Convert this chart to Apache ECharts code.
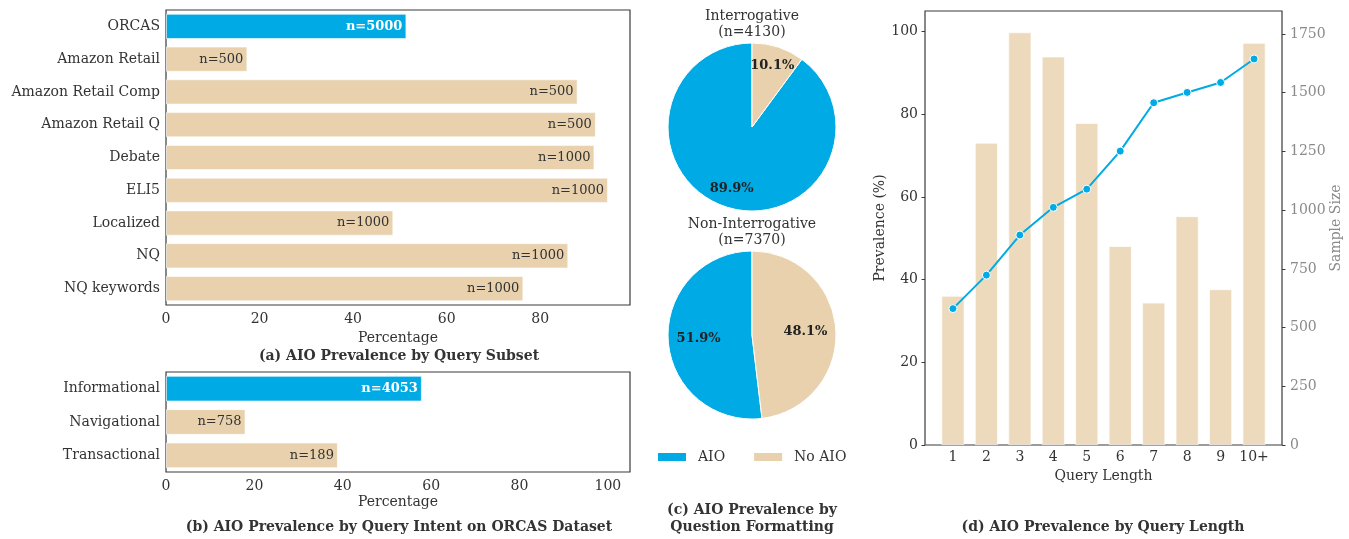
<!DOCTYPE html>
<html>
<head>
<meta charset="utf-8">
<script src="https://cdn.jsdelivr.net/npm/echarts@6/dist/echarts.min.js"></script>
<style>
  html, body { margin: 0; padding: 0; background: #fff; }
  #chart { width: 1349px; height: 539px; }
</style>
</head>
<body>
<div id="chart"></div>
<script>
// (a) prevalence by query subset
const subsetNames = ['ORCAS', 'Amazon Retail', 'Amazon Retail Comp', 'Amazon Retail Q', 'Debate', 'ELI5', 'Localized', 'NQ', 'NQ keywords'];
const subsetPct = [51.4, 17.4, 88.0, 91.9, 91.6, 94.5, 48.6, 86.0, 76.4];
const subsetN = [5000, 500, 500, 500, 1000, 1000, 1000, 1000, 1000];

// (b) prevalence by query intent (ORCAS)
const intentNames = ['Informational', 'Navigational', 'Transactional'];
const intentPct = [57.9, 18.0, 38.9];
const intentN = [4053, 758, 189];

// (c) question formatting
const sliceNames = ['AIO', 'No AIO'];
const formatGroups = ['Interrogative', 'Non-Interrogative'];
const formatN = [4130, 7370];
const interrogativeShare = [89.9, 10.1];
const nonInterrogativeShare = [51.9, 48.1];

// (d) prevalence by query length
const lengthLabels = ['1', '2', '3', '4', '5', '6', '7', '8', '9', '10+'];
const lengthPrevalence = [33.0, 41.1, 50.8, 57.5, 61.9, 71.1, 82.8, 85.3, 87.7, 93.4];
const lengthSamples = [635, 1287, 1757, 1654, 1371, 847, 606, 974, 663, 1712];

const BLUE = '#00AAE4';
const TAN = '#E8D1AC';
const INK = '#333333';
const GREY = '#8a8a8a';
const FONT = 'DejaVu Serif';

const chart = echarts.init(document.getElementById('chart'), null, { renderer: 'canvas' });

function hbarData(values, highlightIndex) {
  return values.map((v, i) => ({
    value: v,
    itemStyle: { color: i === highlightIndex ? BLUE : TAN },
    label: i === highlightIndex ? { color: '#fff', fontWeight: 'bold' } : {}
  }));
}

const frame = { show: true, borderColor: '#3a3a3a', borderWidth: 1.2, backgroundColor: 'transparent' };
const plain = (v) => String(v);

function pieSeries(share, center, radius) {
  return {
    type: 'pie',
    center: center,
    radius: radius,
    startAngle: 90,
    clockwise: false,
    silent: true,
    label: { show: false },
    labelLine: { show: false },
    itemStyle: { borderColor: '#fff', borderWidth: 1 },
    data: sliceNames.map((n, i) => ({ name: n, value: share[i], itemStyle: { color: i === 0 ? BLUE : TAN } }))
  };
}

// transparent ring whose mid-radius sets where the percentage labels sit
function pieLabelRing(share, center, radius) {
  return {
    type: 'pie',
    center: center,
    radius: radius,
    startAngle: 90,
    clockwise: false,
    silent: true,
    label: {
      show: true,
      position: 'inside',
      formatter: (p) => p.value.toFixed(1) + '%',
      color: '#222',
      fontWeight: 'bold',
      fontSize: 13,
      fontFamily: FONT
    },
    labelLine: { show: false },
    itemStyle: { color: 'rgba(0,0,0,0)' },
    data: sliceNames.map((n, i) => ({ name: n, value: share[i] }))
  };
}

const caption = { fontFamily: FONT, fontWeight: 'bold', fontSize: 14, color: INK };
const heading = { fontFamily: FONT, fontWeight: 'normal', fontSize: 14, color: INK, lineHeight: 16 };

const option = {
  animation: false,
  textStyle: { fontFamily: FONT, color: INK },
  title: [
    { text: '(a) AIO Prevalence by Query Subset', left: 399, top: 349, textAlign: 'center', padding: 0, textStyle: caption },
    { text: '(b) AIO Prevalence by Query Intent on ORCAS Dataset', left: 399, top: 520, textAlign: 'center', padding: 0, textStyle: caption },
    { text: '(c) AIO Prevalence by\nQuestion Formatting', left: 752, top: 502, textAlign: 'center', padding: 0,
      textStyle: Object.assign({}, caption, { lineHeight: 17 }) },
    { text: '(d) AIO Prevalence by Query Length', left: 1103, top: 520, textAlign: 'center', padding: 0, textStyle: caption },
    { text: formatGroups[0] + '\n(n=' + formatN[0] + ')', left: 752, top: 8, textAlign: 'center', padding: 0, textStyle: heading },
    { text: formatGroups[1] + '\n(n=' + formatN[1] + ')', left: 752, top: 216, textAlign: 'center', padding: 0, textStyle: heading }
  ],
  legend: {
    data: sliceNames,
    left: 656,
    top: 450,
    padding: 0,
    icon: 'rect',
    itemWidth: 30,
    itemHeight: 10,
    itemGap: 27,
    textStyle: { fontFamily: FONT, fontSize: 14, color: INK, padding: [0, 0, 0, 6] },
    selectedMode: false
  },
  grid: [
    Object.assign({ left: 166, top: 10, width: 464, height: 295 }, frame),
    Object.assign({ left: 166, top: 372, width: 464, height: 100 }, frame),
    Object.assign({ left: 925, top: 11, width: 357, height: 434 }, frame)
  ],
  xAxis: [
    { gridIndex: 0, type: 'value', min: 0, max: 99.2, interval: 20,
      name: 'Percentage', nameLocation: 'middle', nameGap: 23,
      nameTextStyle: { fontFamily: FONT, fontSize: 14, color: INK },
      axisLine: { show: false, onZero: false }, axisTick: { show: false }, splitLine: { show: false },
      axisLabel: { fontFamily: FONT, fontSize: 14, color: INK, margin: 7, showMaxLabel: false } },
    { gridIndex: 1, type: 'value', min: 0, max: 105, interval: 20,
      name: 'Percentage', nameLocation: 'middle', nameGap: 23,
      nameTextStyle: { fontFamily: FONT, fontSize: 14, color: INK },
      axisLine: { show: false, onZero: false }, axisTick: { show: false }, splitLine: { show: false },
      axisLabel: { fontFamily: FONT, fontSize: 14, color: INK, margin: 7, showMaxLabel: false } },
    { gridIndex: 2, type: 'value', min: -0.835, max: 9.835,
      name: 'Query Length', nameLocation: 'middle', nameGap: 22,
      nameTextStyle: { fontFamily: FONT, fontSize: 14, color: INK },
      axisLine: { show: false, onZero: false }, splitLine: { show: false },
      axisTick: { show: false },
      axisLabel: { fontFamily: FONT, fontSize: 14, color: INK, margin: 5,
        customValues: lengthLabels.map((_, i) => i),
        formatter: (v) => lengthLabels[Math.round(v)] } }
  ],
  yAxis: [
    { gridIndex: 0, type: 'category', data: subsetNames, inverse: true,
      axisLine: { show: false, onZero: false }, axisTick: { show: false },
      axisLabel: { fontFamily: FONT, fontSize: 14, color: INK, margin: 6 } },
    { gridIndex: 1, type: 'category', data: intentNames, inverse: true,
      axisLine: { show: false, onZero: false }, axisTick: { show: false },
      axisLabel: { fontFamily: FONT, fontSize: 14, color: INK, margin: 6 } },
    { gridIndex: 2, type: 'value', position: 'left', min: 0, max: 105, interval: 20,
      name: 'Prevalence (%)', nameLocation: 'middle', nameGap: 38, nameRotate: 90,
      nameTextStyle: { fontFamily: FONT, fontSize: 14, color: INK },
      axisLine: { show: false, onZero: false }, splitLine: { show: false },
      axisTick: { show: true, length: 3.5, lineStyle: { color: '#3a3a3a' } },
      axisLabel: { fontFamily: FONT, fontSize: 14, color: INK, margin: 7, showMaxLabel: false, formatter: plain } },
    { gridIndex: 2, type: 'value', position: 'right', min: 0, max: 1848, interval: 250,
      name: 'Sample Size', nameLocation: 'middle', nameGap: 45, nameRotate: 90,
      nameTextStyle: { fontFamily: FONT, fontSize: 14, color: GREY },
      axisLine: { show: false, onZero: false }, splitLine: { show: false },
      axisTick: { show: true, length: 3.5, lineStyle: { color: '#3a3a3a' } },
      axisLabel: { fontFamily: FONT, fontSize: 14, color: GREY, margin: 8, showMaxLabel: false, formatter: plain } }
  ],
  series: [
    { type: 'bar', xAxisIndex: 0, yAxisIndex: 0, barCategoryGap: '23%', silent: true,
      data: hbarData(subsetPct, 0),
      itemStyle: { borderColor: 'rgba(255,255,255,0.6)', borderWidth: 1 },
      label: { show: true, position: 'insideRight', distance: 4, fontFamily: FONT, fontSize: 13, color: INK,
        formatter: (p) => 'n=' + subsetN[p.dataIndex] } },
    { type: 'bar', xAxisIndex: 1, yAxisIndex: 1, barCategoryGap: '23%', silent: true,
      data: hbarData(intentPct, 0),
      itemStyle: { borderColor: 'rgba(255,255,255,0.6)', borderWidth: 1 },
      label: { show: true, position: 'insideRight', distance: 4, fontFamily: FONT, fontSize: 13, color: INK,
        formatter: (p) => 'n=' + intentN[p.dataIndex] } },
    pieSeries(interrogativeShare, [752, 127], [0, 84]),
    pieSeries(nonInterrogativeShare, [752, 335], [0, 84]),
    pieLabelRing(interrogativeShare, [752, 127], [40, 84]),
    pieLabelRing(nonInterrogativeShare, [752, 335], [17, 84]),
    { type: 'bar', xAxisIndex: 2, yAxisIndex: 3, barWidth: 23, silent: true,
      itemStyle: { color: TAN, opacity: 0.8, borderColor: '#fff', borderWidth: 0.8 },
      data: lengthSamples.map((v, i) => [i, v]) },
    { type: 'line', xAxisIndex: 2, yAxisIndex: 2, silent: true,
      symbol: 'circle', symbolSize: 8,
      lineStyle: { color: BLUE, width: 2 },
      itemStyle: { color: BLUE, borderColor: '#fff', borderWidth: 1 },
      data: lengthPrevalence.map((v, i) => [i, v]) }
  ]
};

chart.setOption(option);
</script>
</body>
</html>
